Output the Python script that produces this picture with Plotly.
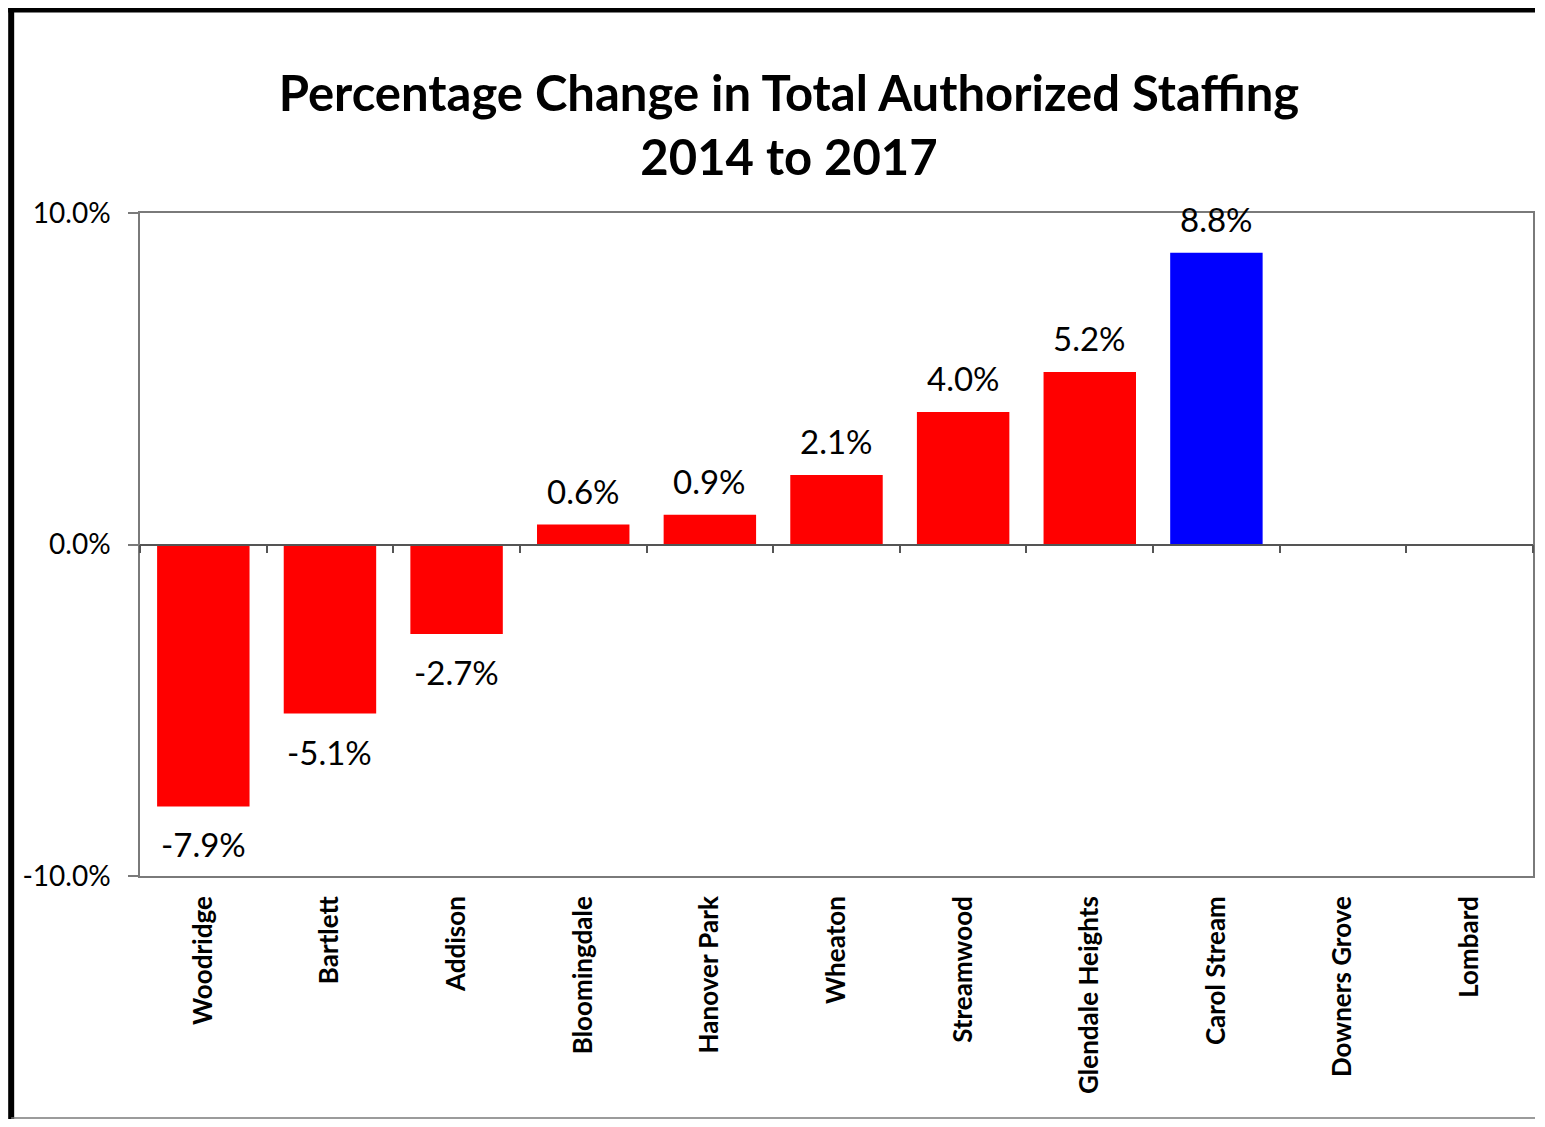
import plotly.graph_objects as go

categories = ["Woodridge", "Bartlett", "Addison", "Bloomingdale", "Hanover Park",
              "Wheaton", "Streamwood", "Glendale Heights", "Carol Stream",
              "Downers Grove", "Lombard"]
values = [-7.9, -5.1, -2.7, 0.6, 0.9, 2.1, 4.0, 5.2, 8.8, None, None]
highlight = "Carol Stream"
y_ticks = [-10, 0, 10]
y_tick_labels = ["-10.0%", "0.0%", "10.0%"]
title_lines = ["Percentage Change in Total Authorized Staffing", "2014 to 2017"]

colors = ["#0000FF" if c == highlight else "#FF0000" for c in categories]

# page body has an 8px margin; keep the figure inside the viewport (no scrollbars)
W, H = 1529, 1111
L, R, T, B = 132, 2, 205, 243
FONT = "Lato, Calibri, sans-serif"

fig = go.Figure()
fig.add_trace(go.Bar(
    x=categories, y=values, marker=dict(color=colors, line=dict(width=0)),
    width=0.73, showlegend=False, hoverinfo="x+y",
))
# helper trace for the category axis drawn along the zero line
fig.add_trace(go.Bar(x=categories, y=[None] * len(categories), xaxis="x2",
                     showlegend=False, hoverinfo="skip"))

for c, v in zip(categories, values):
    if v is None:
        continue
    fig.add_annotation(
        x=c, y=v, text=f"{v:.1f}%", showarrow=False,
        yanchor="bottom" if v >= 0 else "top",
        yshift=12 if v >= 0 else -16,
        font=dict(family=FONT, size=33, color="#000000"),
    )

fig.update_layout(
    width=W, height=H,
    margin=dict(l=L, r=R, t=T, b=B),
    paper_bgcolor="white", plot_bgcolor="white",
    title=dict(text="<br>".join(f"<b>{t}</b>" for t in title_lines),
               x=781 / W, xanchor="center", xref="container",
               y=1 - 103 / H, yanchor="middle", yref="container",
               font=dict(family=FONT, size=49, color="#000000")),
    xaxis=dict(type="category", categoryorder="array", categoryarray=categories,
               range=[-0.5, len(categories) - 0.5],
               showline=True, linecolor="#7a7a7a", linewidth=1.5, mirror=True,
               ticks="", tickangle=-90, ticklabelstandoff=8,
               tickfont=dict(family=FONT, size=26, color="#000000", weight="bold"),
               showgrid=False, zeroline=False),
    xaxis2=dict(type="category", categoryorder="array", categoryarray=categories,
                range=[-0.5, len(categories) - 0.5], overlaying="x",
                anchor="free", position=0.5, side="bottom",
                showline=True, linecolor="#555555", linewidth=1.5,
                ticks="outside", tickson="boundaries", ticklen=8, tickwidth=1.5,
                tickcolor="#555555", showticklabels=False, showgrid=False,
                zeroline=False),
    yaxis=dict(range=[-10, 10], tickvals=y_ticks, ticktext=y_tick_labels,
               showline=True, linecolor="#7a7a7a", linewidth=1.5, mirror=True,
               ticks="outside", ticklen=10, tickcolor="#7a7a7a", tickwidth=1.5,
               tickfont=dict(family=FONT, size=28, color="#000000"),
               ticklabelstandoff=12,
               showgrid=False, zeroline=False),
    bargap=0.27,
)

pw, ph = W - L - R, H - T - B
def px(x):
    return (x - L) / pw
def py(y):
    return (H - B - y) / ph

# outer frame of the picture (figure coordinates)
fig.add_shape(type="line", xref="paper", yref="paper", x0=px(3), x1=px(3),
              y0=py(0), y1=py(H), line=dict(color="#000000", width=6))
fig.add_shape(type="line", xref="paper", yref="paper", x0=px(0), x1=px(W),
              y0=py(2), y1=py(2), line=dict(color="#000000", width=5))
fig.add_shape(type="line", xref="paper", yref="paper", x0=px(3), x1=px(W),
              y0=py(H - 1), y1=py(H - 1), line=dict(color="#7a7a7a", width=1.5))

fig.write_html("out.html")
